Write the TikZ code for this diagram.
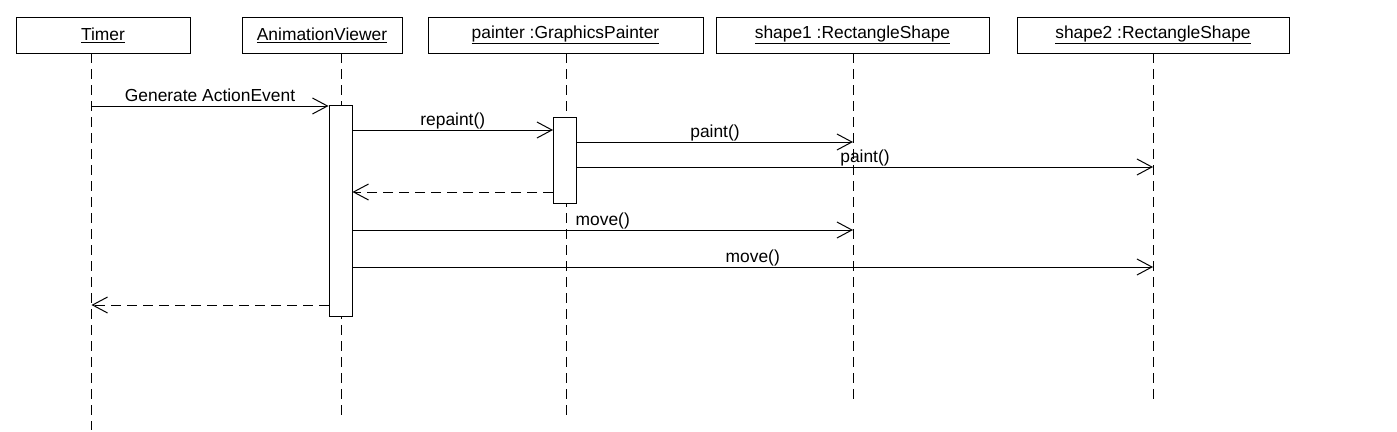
\documentclass[tikz,border=0pt]{standalone}
\usepackage{fontspec}
\setmainfont{Liberation Sans}
\usepackage{tikz}
\usetikzlibrary{arrows.meta}

\begin{document}
\begin{tikzpicture}
 [ x=1pt, y=-1pt
 , line width=1pt
 , every node/.style={font=\fontsize{17.4}{20}\selectfont}
 , object/.style={draw, fill=white, inner sep=0pt, minimum height=36pt}
 , lifeline/.style={dash pattern=on 10pt off 6pt}
 , activation/.style={draw, fill=white, inner sep=0pt, minimum width=23pt}
 , call/.style={-{Straight Barb[length=15pt, width=16pt, line width=1pt]}}
 , reply/.style={call, dash pattern=on 10pt off 6pt}
 , msg/.style={midway, anchor=base, yshift=5pt, inner sep=0pt}
 ]
  \useasboundingbox (0,0) rectangle (1397,431);

  % objects
  \node [object, minimum width=174pt] (timer)   at (103,35)    {\underline{Timer}};
  \node [object, minimum width=160pt] (viewer)  at (322,35)    {\underline{AnimationViewer}};
  \node [object, minimum width=275pt] (painter) at (565.5,35)  {\underline{painter :GraphicsPainter}};
  \node [object, minimum width=273pt] (shape1)  at (852.5,35)  {\underline{shape1 :RectangleShape}};
  \node [object, minimum width=272pt] (shape2)  at (1153,35)   {\underline{shape2 :RectangleShape}};

  % lifelines
  \coordinate (timer top)   at (91.5,53);   \coordinate (timer end)   at (91.5,430);
  \coordinate (viewer top)  at (341.5,53);  \coordinate (viewer end)  at (341.5,417);
  \coordinate (painter top) at (566,53);    \coordinate (painter end) at (566,417);
  \coordinate (shape1 top)  at (853,53);    \coordinate (shape1 end)  at (853,405);
  \coordinate (shape2 top)  at (1153,53);   \coordinate (shape2 end)  at (1153,405);
  \draw [lifeline] (timer top)   -- (timer end);
  \draw [lifeline] (viewer top)  -- (viewer end);
  \draw [lifeline] (painter top) -- (painter end);
  \draw [lifeline] (shape1 top)  -- (shape1 end);
  \draw [lifeline] (shape2 top)  -- (shape2 end);

  % activations
  \node [activation, minimum height=211pt] (viewer act)  at (340.5,210.5) {};
  \node [activation, minimum height=86pt]  (painter act) at (565,160)     {};

  % message levels
  \coordinate (m1) at (0,106);
  \coordinate (m2) at (0,130);
  \coordinate (m3) at (0,142);
  \coordinate (m4) at (0,167);
  \coordinate (m5) at (0,192);
  \coordinate (m6) at (0,230);
  \coordinate (m7) at (0,267);
  \coordinate (m8) at (0,305);

  \draw [call]  (timer top |- m1) -- (viewer act.west |- m1)
    node [msg] {Generate ActionEvent};
  \draw [call]  (viewer act.east |- m2) -- (painter act.west |- m2)
    node [msg] {repaint()};
  \draw [call]  (painter act.east |- m3) -- (shape1 top |- m3)
    node [msg] {paint()};
  \draw [call]  (painter act.east |- m4) -- (shape2 top |- m4)
    node [msg] {paint()};
  \draw [reply] (painter act.west |- m5) -- (viewer act.east |- m5);
  \draw [call]  (viewer act.east |- m6) -- (shape1 top |- m6)
    node [msg] {move()};
  \draw [call]  (viewer act.east |- m7) -- (shape2 top |- m7)
    node [msg] {move()};
  \draw [reply] (viewer act.west |- m8) -- (timer top |- m8);
\end{tikzpicture}
\end{document}
